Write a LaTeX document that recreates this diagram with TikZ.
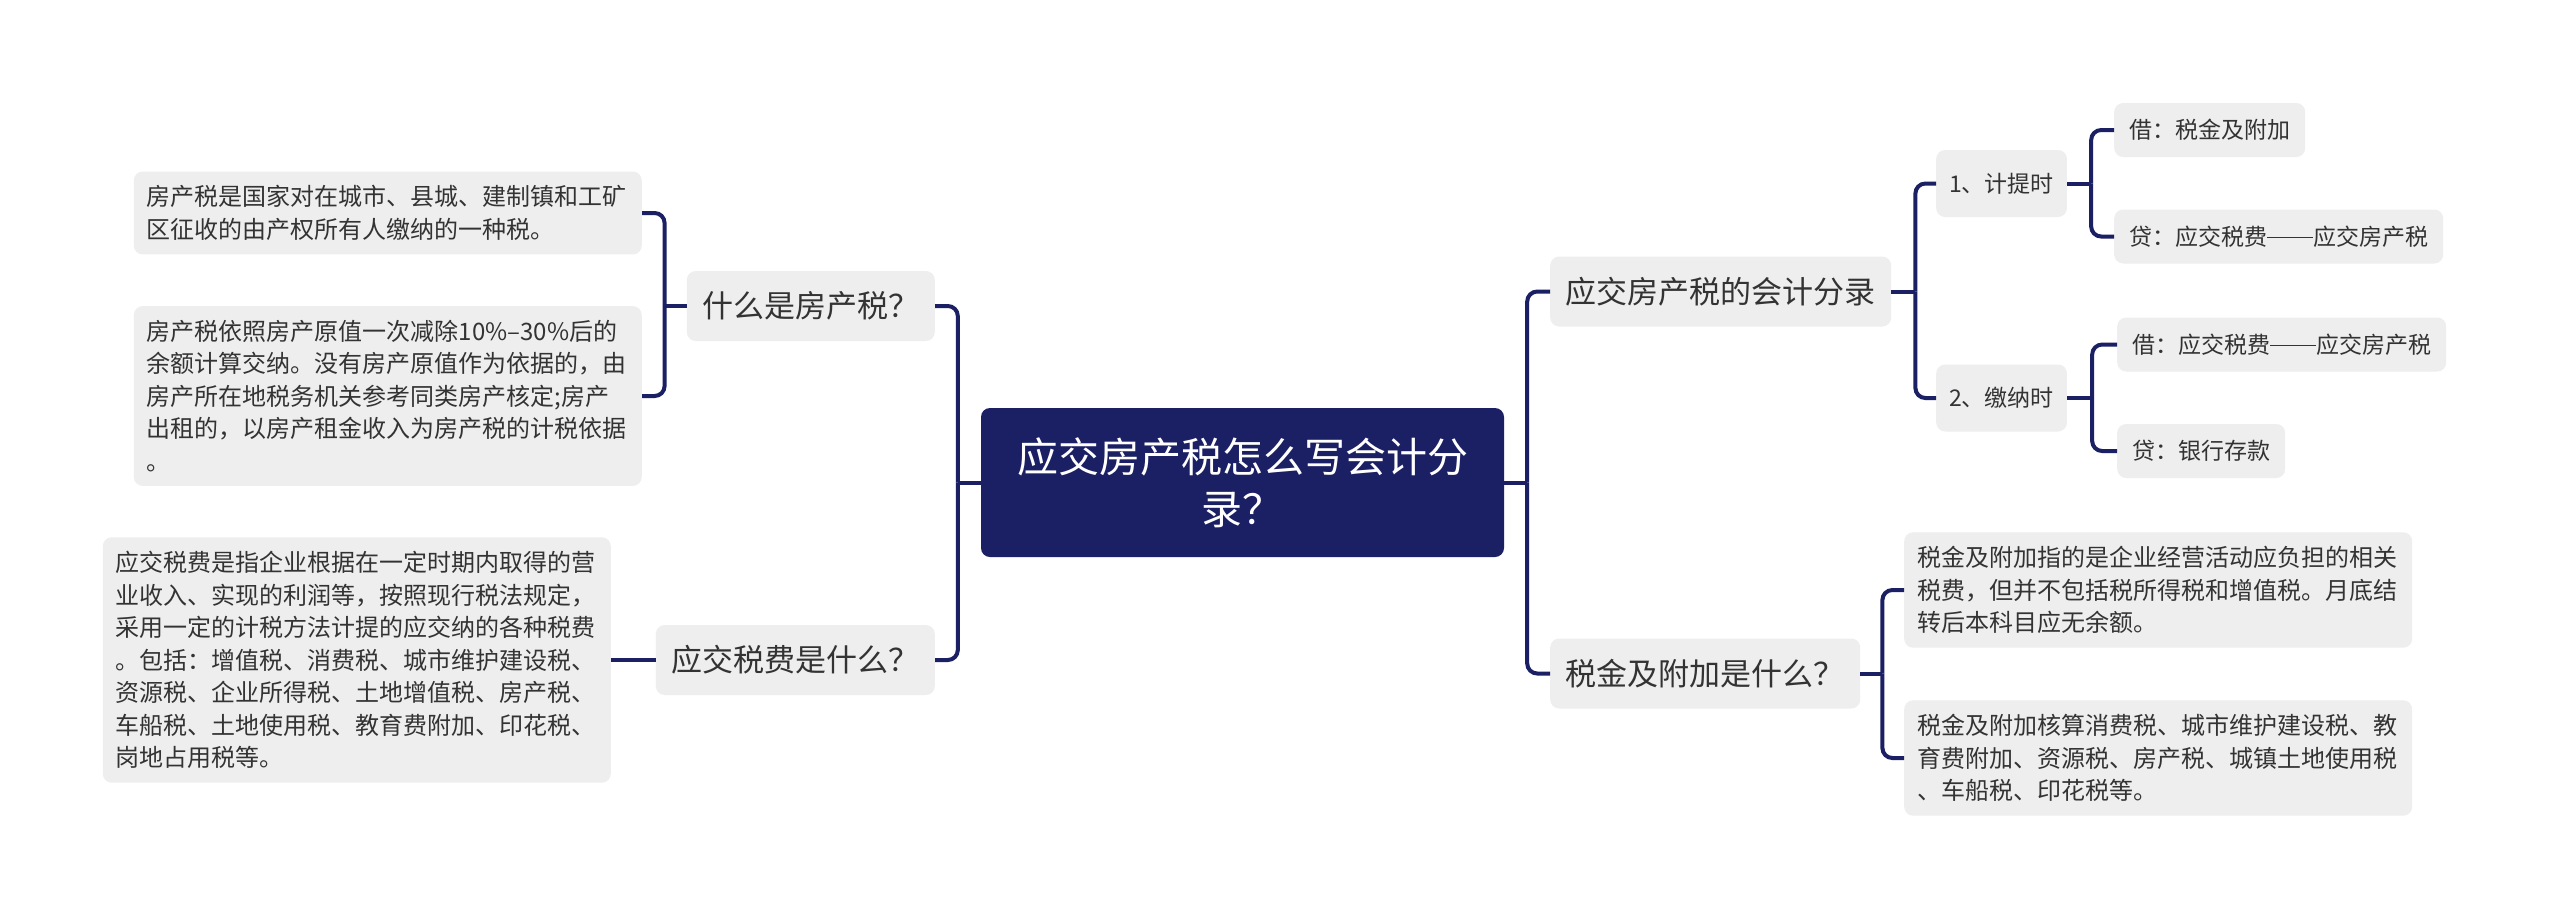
\documentclass[tikz,border=0pt]{standalone}
\usepackage{fontspec}
\setmainfont{Noto Sans CJK SC}
\definecolor{navy}{HTML}{1B1F63}
\definecolor{nodegray}{HTML}{EEEEEE}
\definecolor{txt}{HTML}{333333}
\newcommand{\cjkdash}{\rule[0.3em]{2em}{0.055em}}
\tikzset{
  base/.style={rectangle, rounded corners=9pt, fill=nodegray, text=txt, inner sep=0pt},
  rootnode/.style={base, fill=navy, text=white, font=\fontsize{41}{52}\selectfont, minimum width=523pt, minimum height=149pt, align=center},
  lvone/.style={base, font=\fontsize{31}{40}\selectfont, minimum height=70pt, inner xsep=15.5pt},
  lvtwo/.style={base, font=\fontsize{23}{30}\selectfont, minimum height=67pt, inner xsep=13pt},
  lvthree/.style={base, font=\fontsize{23}{30}\selectfont, minimum height=54pt, inner xsep=15pt},
  leaf/.style={base, font=\fontsize{24}{32.5}\selectfont, text width=482pt, align=left, inner xsep=13pt, inner ysep=14pt},
  conn/.style={draw=navy, line width=4pt},
  elbow/.style={conn, rounded corners=10pt}
}
\begin{document}
\begin{tikzpicture}[x=1pt, y=-1pt]
\useasboundingbox (0,0) rectangle (2560,922);
\fill[white] (0,0) rectangle (2560,922);

% root
\node[rootnode] (root) at (1242.5,482.5) {应交房产税怎么写会计分\\录？};

% left side
\node[lvone, anchor=east] (q1) at (935,306) {什么是房产税？};
\node[lvone, anchor=east] (q2) at (935,660) {应交税费是什么？};
\node[leaf, anchor=east] (l1) at (642,213) {房产税是国家对在城市、县城、建制镇和工矿\\区征收的由产权所有人缴纳的一种税。};
\node[leaf, anchor=east] (l2) at (642,396) {房产税依照房产原值一次减除10\%–30\%后的\\余额计算交纳。没有房产原值作为依据的，由\\房产所在地税务机关参考同类房产核定;房产\\出租的，以房产租金收入为房产税的计税依据\\。};
\node[leaf, anchor=east] (l3) at (611,660) {应交税费是指企业根据在一定时期内取得的营\\业收入、实现的利润等，按照现行税法规定，\\采用一定的计税方法计提的应交纳的各种税费\\。包括：增值税、消费税、城市维护建设税、\\资源税、企业所得税、土地增值税、房产税、\\车船税、土地使用税、教育费附加、印花税、\\岗地占用税等。};

% right side
\node[lvone, anchor=west] (r1) at (1550,291.5) {应交房产税的会计分录};
\node[lvone, anchor=west] (r2) at (1550,673.5) {税金及附加是什么？};
\node[lvtwo, anchor=west] (a1) at (1936,183.5) {1、计提时};
\node[lvtwo, anchor=west] (a2) at (1936,398) {2、缴纳时};
\node[lvthree, anchor=west] (b1) at (2114,130) {借：税金及附加};
\node[lvthree, anchor=west] (b2) at (2114,236.5) {贷：应交税费\cjkdash 应交房产税};
\node[lvthree, anchor=west] (b3) at (2117,344.5) {借：应交税费\cjkdash 应交房产税};
\node[lvthree, anchor=west] (b4) at (2117,451) {贷：银行存款};
\node[leaf, anchor=west] (c1) at (1904,590) {税金及附加指的是企业经营活动应负担的相关\\税费，但并不包括税所得税和增值税。月底结\\转后本科目应无余额。};
\node[leaf, anchor=west] (c2) at (1904,758) {税金及附加核算消费税、城市维护建设税、教\\育费附加、资源税、房产税、城镇土地使用税\\、车船税、印花税等。};

% connectors left
\draw[conn] (root.west) -- ++(-23,0) coordinate (jl);
\draw[elbow] (jl) |- (q1.east);
\draw[elbow] (jl) |- (q2.east);
\draw[conn] (q1.west) -- ++(-22,0) coordinate (jq1);
\draw[elbow] (jq1) |- (l1.east);
\draw[elbow] (jq1) |- (l2.east);
\draw[conn] (q2.west) -- (l3.east);

% connectors right
\draw[conn] (root.east) -- ++(23,0) coordinate (jr);
\draw[elbow] (jr) |- (r1.west);
\draw[elbow] (jr) |- (r2.west);
\draw[conn] (r1.east) -- ++(24,0) coordinate (jr1);
\draw[elbow] (jr1) |- (a1.west);
\draw[elbow] (jr1) |- (a2.west);
\draw[conn] (a1.east) -- ++(24,0) coordinate (ja1);
\draw[elbow] (ja1) |- (b1.west);
\draw[elbow] (ja1) |- (b2.west);
\draw[conn] (a2.east) -- ++(25,0) coordinate (ja2);
\draw[elbow] (ja2) |- (b3.west);
\draw[elbow] (ja2) |- (b4.west);
\draw[conn] (r2.east) -- ++(22,0) coordinate (jr2);
\draw[elbow] (jr2) |- (c1.west);
\draw[elbow] (jr2) |- (c2.west);
\end{tikzpicture}
\end{document}
